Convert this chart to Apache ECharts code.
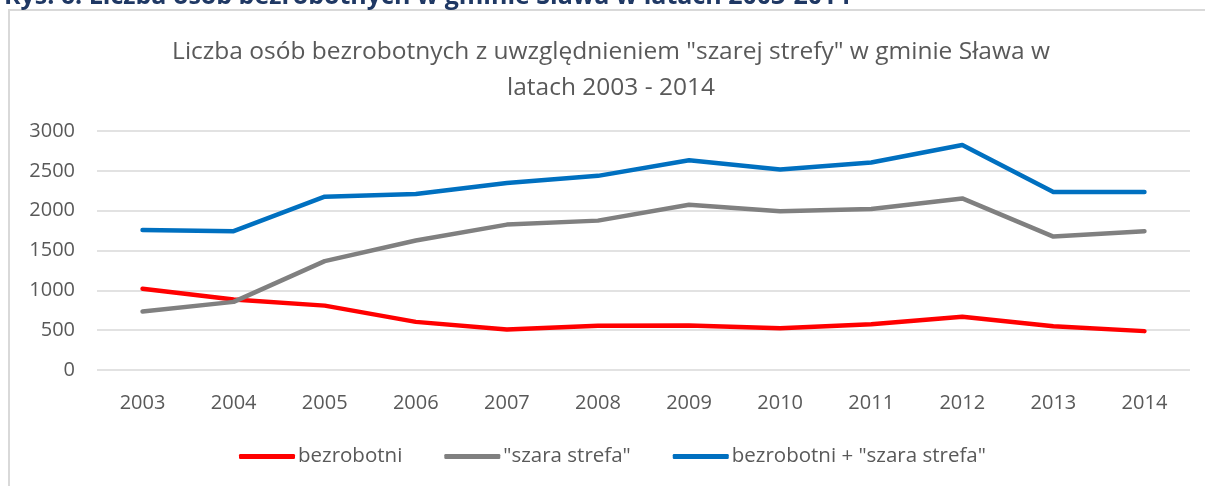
<!DOCTYPE html>
<html>
<head>
<meta charset="utf-8">
<script src="https://cdn.jsdelivr.net/npm/echarts@6/dist/echarts.min.js"></script>
<style>
html,body{margin:0;padding:0;background:#fff;}
#chart{width:1205px;height:486px;}
</style>
</head>
<body>
<div id="chart"></div>
<script>
const years = ['2003','2004','2005','2006','2007','2008','2009','2010','2011','2012','2013','2014'];
const bezrobotni = [1020, 885, 808, 604, 508, 554, 558, 525, 575, 667, 550, 488];
const szaraStrefa = [735, 855, 1367, 1625, 1825, 1875, 2075, 1992, 2021, 2154, 1675, 1742];
const razem = [1758, 1742, 2175, 2208, 2346, 2437, 2633, 2517, 2604, 2825, 2233, 2233];
const seriesNames = ['bezrobotni', '"szara strefa"', 'bezrobotni + "szara strefa"'];
const yTicks = [0, 500, 1000, 1500, 2000, 2500, 3000];
const titleText = 'Liczba osób bezrobotnych z uwzględnieniem "szarej strefy" w gminie Sława w\nlatach 2003 - 2014';
const headerText = 'Rys. 6. Liczba osób bezrobotnych w gminie Sława w latach 2003-2014';

const font = '"Open Sans", Lato, sans-serif';
const chart = echarts.init(document.getElementById('chart'));
const mk = (name, data, color) => ({
  name, type: 'line', data, symbol: 'none', smooth: false,
  lineStyle: { color, width: 4.5, cap: 'round', join: 'round' },
  itemStyle: { color },
  emphasis: { disabled: true }
});
chart.setOption({
  animation: false,
  backgroundColor: '#fff',
  graphic: [
    { type: 'rect', shape: { x: 9, y: 10, width: 1210, height: 490 }, style: { fill: 'none', stroke: '#d9d9d9', lineWidth: 2 }, silent: true },
    { type: 'text', x: 4, y: 9, style: { text: headerText, font: 'bold 25px ' + font, fill: '#1f3864', verticalAlign: 'bottom' }, silent: true }
  ],
  title: {
    text: titleText,
    left: 606, top: 29, textAlign: 'center',
    textStyle: { fontFamily: font, fontSize: 24.5, fontWeight: 'normal', color: '#595959', lineHeight: 36 }
  },
  legend: {
    data: seriesNames,
    bottom: 14, left: 234,
    icon: 'roundRect',
    itemWidth: 56, itemHeight: 5, itemGap: 42,
    textStyle: { fontFamily: font, fontSize: 20.5, color: '#595959', padding: [0, 0, 0, -2] }
  },
  grid: { left: 97, right: 15, top: 131, bottom: 116 },
  xAxis: {
    type: 'category', data: years, boundaryGap: true,
    axisLine: { show: false }, axisTick: { show: false },
    axisLabel: { fontFamily: font, fontSize: 20, color: '#595959', margin: 23 }
  },
  yAxis: {
    type: 'value', min: yTicks[0], max: yTicks[yTicks.length - 1], interval: 500,
    axisLine: { show: false }, axisTick: { show: false },
    axisLabel: { fontFamily: font, fontSize: 20, color: '#595959', margin: 22, formatter: v => String(v) },
    splitLine: { lineStyle: { color: '#d9d9d9', width: 1.5 } }
  },
  series: [
    mk(seriesNames[0], bezrobotni, '#ff0000'),
    mk(seriesNames[1], szaraStrefa, '#808080'),
    mk(seriesNames[2], razem, '#0070c0')
  ]
});
</script>
</body>
</html>
